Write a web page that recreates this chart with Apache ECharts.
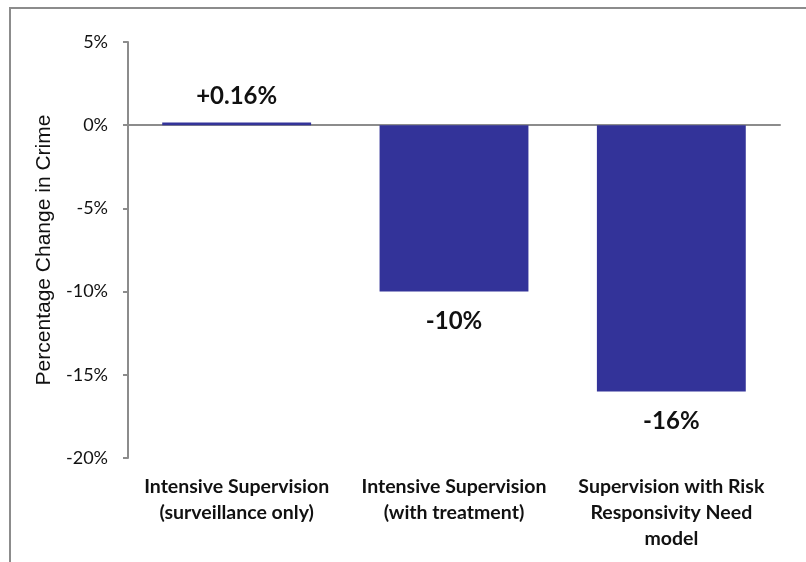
<!DOCTYPE html>
<html>
<head>
<meta charset="utf-8">
<script src="https://cdn.jsdelivr.net/npm/echarts@6/dist/echarts.min.js"></script>
<style>
  html, body { margin: 0; padding: 0; background: #ffffff; }
  #chart { width: 806px; height: 562px; }
</style>
</head>
<body>
<div id="chart"></div>
<script>
// Programme categories and the change in crime each one produced (percent)
var categories = [
  'Intensive Supervision\n(surveillance only)',
  'Intensive Supervision\n(with treatment)',
  'Supervision with Risk\nResponsivity Need\nmodel'
];
var changeValues = [0.16, -10, -16];
var valueLabels = ['+0.16%', '-10%', '-16%'];
var yTicks = { min: -20, max: 5, interval: 5 };

var barColor = '#333399';
var axisGray = '#8c8c8c';

var chart = echarts.init(document.getElementById('chart'), null, { renderer: 'canvas' });

var barData = changeValues.map(function (v, i) {
  return {
    value: v,
    label: {
      position: v >= 0 ? 'top' : 'bottom',
      distance: v >= 0 ? 14 : 18,
      formatter: valueLabels[i]
    }
  };
});

chart.setOption({
  animation: false,
  backgroundColor: '#ffffff',
  graphic: [{
    type: 'rect',
    shape: { x: 10, y: 8, width: 900, height: 700 },
    style: { fill: 'none', stroke: axisGray, lineWidth: 2 },
    silent: true,
    z: 0
  }],
  grid: { left: 128, right: 26, top: 42, bottom: 104, containLabel: false },
  xAxis: [{
    type: 'category',
    data: categories,
    position: 'bottom',
    axisLine: { show: false, onZero: false },
    axisTick: { show: false },
    axisLabel: {
      interval: 0,
      margin: 16,
      fontFamily: 'Lato',
      fontWeight: 'bold',
      fontSize: 19.5,
      lineHeight: 26,
      color: '#111111'
    }
  }, {
    type: 'category',
    data: categories,
    position: 'bottom',
    axisLine: { show: true, onZero: true, lineStyle: { color: axisGray, width: 2 } },
    axisTick: { show: false },
    axisLabel: { show: false }
  }],
  yAxis: {
    type: 'value',
    min: yTicks.min,
    max: yTicks.max,
    interval: yTicks.interval,
    name: 'Percentage Change in Crime',
    nameLocation: 'middle',
    nameGap: 72,
    nameTextStyle: { fontFamily: 'Liberation Sans', fontSize: 21, color: '#111111' },
    axisLine: { show: true, lineStyle: { color: axisGray, width: 2 } },
    axisTick: { show: true, length: 5, lineStyle: { color: axisGray, width: 2 } },
    splitLine: { show: false },
    axisLabel: {
      margin: 20,
      fontFamily: 'Lato',
      fontSize: 18,
      color: '#111111',
      formatter: function (v) { return v + '%'; }
    }
  },
  series: [{
    type: 'bar',
    xAxisIndex: 0,
    data: barData,
    barWidth: '68.5%',
    itemStyle: { color: barColor },
    label: {
      show: true,
      fontFamily: 'Lato',
      fontWeight: 'bold',
      fontSize: 24,
      color: '#111111'
    }
  }]
});
</script>
</body>
</html>
